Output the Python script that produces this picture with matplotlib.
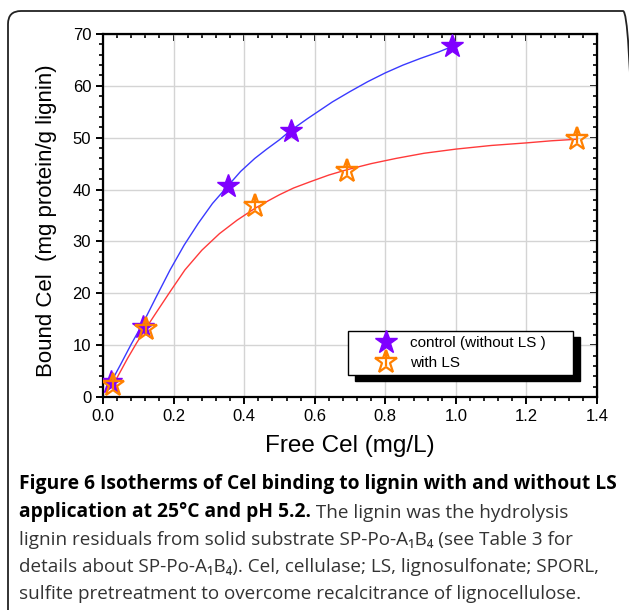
import matplotlib
matplotlib.use("Agg")
import matplotlib.pyplot as plt
import matplotlib.ticker as tck
from matplotlib.patches import FancyBboxPatch, Rectangle
from matplotlib.path import Path

plt.rcParams['font.family'] = ['Liberation Sans', 'DejaVu Sans']

# measured points (free Cel mg/L, bound Cel mg/g lignin)
ctrl_x = [0.023, 0.113, 0.355, 0.533, 0.99]
ctrl_y = [2.9, 13.5, 40.6, 51.3, 67.6]
ls_x = [0.028, 0.122, 0.431, 0.69, 1.342]
ls_y = [2.4, 13.2, 36.8, 43.5, 49.7]

# fitted isotherm curves
ctrl_fit_x = [0.02, 0.05, 0.08, 0.113, 0.15, 0.19, 0.23, 0.27, 0.31, 0.355, 0.39, 0.43,
              0.464, 0.5, 0.53, 0.58, 0.65, 0.7, 0.75, 0.8, 0.85, 0.9, 0.95, 0.99]
ctrl_fit_y = [2.5, 6.3, 10.2, 14.2, 19.2, 24.5, 29.3, 33.5, 37.3, 40.8, 43.5, 46.0,
              47.8, 49.6, 51.3, 53.7, 56.9, 58.9, 60.8, 62.5, 64.0, 65.3, 66.5, 67.6]
ls_fit_x = [0.03, 0.05, 0.07, 0.095, 0.122, 0.15, 0.19, 0.232, 0.28, 0.33, 0.38, 0.431,
            0.47, 0.5, 0.54, 0.587, 0.64, 0.69, 0.76, 0.83, 0.91, 1.0, 1.1, 1.2, 1.27, 1.342]
ls_fit_y = [2.5, 5.0, 7.5, 10.4, 13.3, 16.2, 20.3, 24.5, 28.3, 31.5, 34.1, 36.4,
            37.9, 39.0, 40.3, 41.5, 42.8, 43.8, 45.0, 46.0, 47.0, 47.8, 48.5, 49.0, 49.4, 49.7]

labels = ['control (without LS )', 'with LS']
caption_bold = ['Figure 6 Isotherms of Cel binding to lignin with and without LS',
                'application at 25\u00b0C and pH 5.2.']
caption_rest = [' The lignin was the hydrolysis',
                'lignin residuals from solid substrate SP-Po-A\u2081B\u2084 (see Table 3 for',
                'details about SP-Po-A\u2081B\u2084). Cel, cellulase; LS, lignosulfonate; SPORL,',
                'sulfite pretreatment to overcome recalcitrance of lignocellulose.']

fig = plt.figure(figsize=(6.29, 6.10), dpi=100)

# rounded panel border
border = FancyBboxPatch((8, -30), 628, 640 - 11, boxstyle="round,pad=0,rounding_size=13",
                        transform=None, fill=False, edgecolor='#222222', linewidth=1.3)
fig.patches.append(border)

ax = fig.add_axes([0.1638, 0.3492, 0.7854, 0.5951])

ax.plot(ctrl_fit_x, ctrl_fit_y, color='#3a3aff', lw=1.0, zorder=3)
ax.plot(ls_fit_x, ls_fit_y, color='#ff3a3a', lw=1.0, zorder=3)

# inner strokes of the open star (same unit frame as the '*' marker)
cross = Path([(0, 1), (0, -0.38), (-0.95, 0.31), (0.95, 0.31)],
             [Path.MOVETO, Path.LINETO, Path.MOVETO, Path.LINETO])

h1, = ax.plot(ctrl_x, ctrl_y, ls='none', marker='*', ms=17, color='#7f00ff', zorder=4)
h2a, = ax.plot(ls_x, ls_y, ls='none', marker='*', ms=17, mfc='none', mec='#ff8000',
               mew=1.6, zorder=5)
h2b, = ax.plot(ls_x, ls_y, ls='none', marker=cross, ms=17, fillstyle='none',
               mec='#ff8000', mew=1.6, zorder=6)

ax.set_xlim(0, 1.4)
ax.set_ylim(0, 70)
ax.xaxis.set_major_locator(tck.MultipleLocator(0.2))
ax.xaxis.set_minor_locator(tck.MultipleLocator(0.04))
ax.yaxis.set_major_locator(tck.MultipleLocator(10))
ax.yaxis.set_minor_locator(tck.MultipleLocator(2))
ax.xaxis.set_major_formatter(tck.FormatStrFormatter('%.1f'))
ax.grid(True, which='major', color='#d4d4d4', lw=1.0)
ax.set_axisbelow(True)

for sp in ax.spines.values():
    sp.set_linewidth(1.6)
ax.tick_params(which='major', direction='out', length=5, width=1.4, labelsize=12)
ax.tick_params(which='minor', direction='out', length=3, width=1.2)

# top and right ticks point inward
top = ax.secondary_xaxis('top')
top.xaxis.set_major_locator(tck.MultipleLocator(0.2))
top.xaxis.set_minor_locator(tck.MultipleLocator(0.04))
top.tick_params(which='major', direction='in', length=5, width=1.4, labeltop=False)
top.tick_params(which='minor', direction='in', length=3, width=1.2)
right = ax.secondary_yaxis('right')
right.yaxis.set_major_locator(tck.MultipleLocator(10))
right.yaxis.set_minor_locator(tck.MultipleLocator(2))
right.tick_params(which='major', direction='in', length=5, width=1.4, labelright=False)
right.tick_params(which='minor', direction='in', length=3, width=1.2)

ax.set_xlabel('Free Cel (mg/L)', fontsize=17.5, labelpad=8)
ax.set_ylabel('Bound Cel  (mg protein/g lignin)', fontsize=16, labelpad=11)
ax.yaxis.label.set_y(0.485)

# legend box with a black drop shadow, entries placed inside it
box_x0, box_y0, box_w, box_h = 0.496, 0.061, 0.455, 0.121
ax.add_patch(Rectangle((box_x0 + 0.014, box_y0 - 0.018), box_w, box_h, transform=ax.transAxes,
                       color='black', zorder=9, clip_on=False))
ax.add_patch(Rectangle((box_x0, box_y0), box_w, box_h, transform=ax.transAxes,
                       facecolor='white', edgecolor='black', lw=1.0, zorder=9.5, clip_on=False))
leg = ax.legend([h1, (h2a, h2b)], labels, loc='upper left',
                bbox_to_anchor=(0.541, 0.168), fontsize=11, frameon=False,
                borderpad=0, labelspacing=0.42, handletextpad=0.6,
                borderaxespad=0, handlelength=2.0)
leg.set_zorder(10)

# caption
cap_font = ['Open Sans', 'DejaVu Sans']
line_y = [484, 512, 540, 567, 594]
tb = fig.text(19 / 629, 1 - line_y[0] / 610, caption_bold[0], family=cap_font,
              fontsize=13.85, weight='bold', va='center', ha='left')
tb2 = fig.text(19 / 629, 1 - line_y[1] / 610, caption_bold[1], family=cap_font,
               fontsize=13.85, weight='bold', va='center', ha='left')
fig.add_artist(plt.Annotation(caption_rest[0], xy=(1, 0), xycoords=tb2, va='bottom',
                              ha='left', family=cap_font, fontsize=13.6, color='#333333'))
for txt, yy in zip(caption_rest[1:], line_y[2:]):
    fig.text(19 / 629, 1 - yy / 610, txt, family=cap_font, fontsize=13.6,
             va='center', ha='left', color='#333333')

fig.savefig('out.png', dpi=100)
